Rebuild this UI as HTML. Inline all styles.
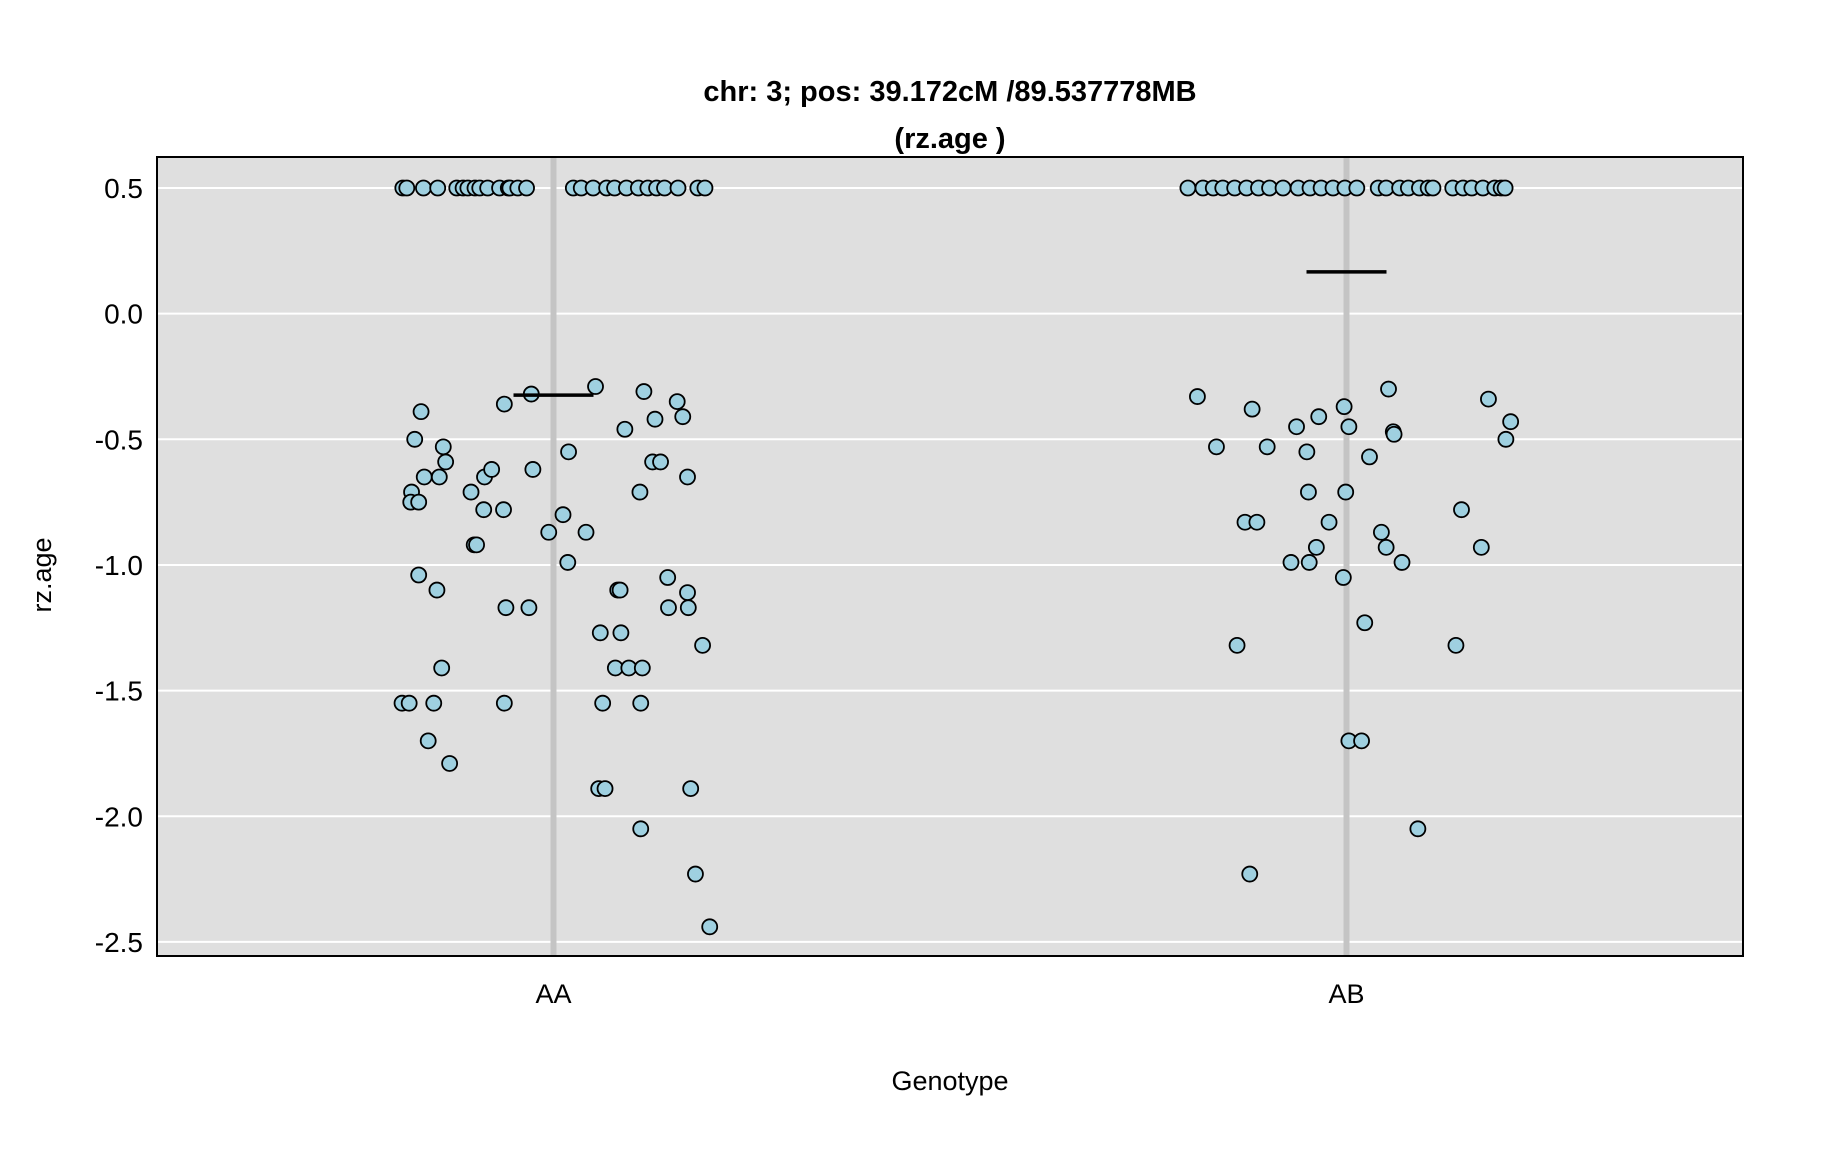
<!DOCTYPE html>
<html><head><meta charset="utf-8"><style>
html,body{margin:0;padding:0;background:#fff}
svg{display:block;font-family:"Liberation Sans",Arial,sans-serif}
</style></head><body>
<svg id="chart" width="1824" height="1152" viewBox="0 0 1824 1152" xmlns="http://www.w3.org/2000/svg">
<rect x="0" y="0" width="1824" height="1152" fill="#fff"/>
<text x="950" y="101" text-anchor="middle" font-size="29" font-weight="bold">chr: 3; pos: 39.172cM /89.537778MB</text>
<text x="950" y="148" text-anchor="middle" font-size="29" font-weight="bold">(rz.age )</text>
<rect x="157" y="157" width="1586" height="799" fill="#dfdfdf"/>
<g id="grid"></g>
<g id="vlines"></g>
<g id="points"></g>
<g id="means"></g>
<rect x="157" y="157" width="1586" height="799" fill="none" stroke="#000" stroke-width="2"/>
<g id="yticks"></g>
<g id="xticks"></g>
<text x="950" y="1090" text-anchor="middle" font-size="27">Genotype</text>
<text transform="translate(51,575) rotate(-90)" text-anchor="middle" font-size="27">rz.age</text>
</svg>
<script>
const categories = ["AA","AB"];
const yTicks = [0.5,0.0,-0.5,-1.0,-1.5,-2.0,-2.5];
const yTickLabels = ["0.5","0.0","-0.5","-1.0","-1.5","-2.0","-2.5"];
const groupMeans = [-0.324,0.166];
const aaTopJitter = [-0.190,-0.185,-0.164,-0.146,-0.122,-0.114,-0.108,-0.099,-0.093,-0.083,-0.068,-0.057,-0.055,-0.045,-0.034,0.025,0.035,0.050,0.067,0.077,0.092,0.107,0.119,0.130,0.140,0.157,0.182,0.191];
const abTopJitter = [-0.200,-0.181,-0.168,-0.156,-0.141,-0.126,-0.111,-0.097,-0.080,-0.061,-0.046,-0.032,-0.017,-0.002,0.013,0.040,0.050,0.067,0.078,0.092,0.103,0.109,0.134,0.147,0.158,0.172,0.187,0.195,0.200];
const topValue = 0.5;
const aaJitter = [-0.175,-0.167,-0.179,-0.180,-0.170,-0.163,-0.144,-0.139,-0.136,-0.170,-0.147,-0.141,-0.191,-0.182,-0.151,-0.158,-0.131,-0.104,-0.100,-0.097,-0.088,-0.087,-0.078,-0.062,-0.063,-0.060,-0.062,-0.031,-0.028,-0.026,-0.006,0.012,0.019,0.018,0.041,0.053,0.059,0.062,0.057,0.065,0.078,0.081,0.084,0.085,0.090,0.095,0.112,0.109,0.110,0.110,0.114,0.128,0.125,0.135,0.144,0.145,0.156,0.163,0.169,0.169,0.170,0.173,0.179,0.188,0.197];
const aaValues = [-0.50,-0.39,-0.71,-0.75,-0.75,-0.65,-0.65,-0.53,-0.59,-1.04,-1.10,-1.41,-1.55,-1.55,-1.55,-1.70,-1.79,-0.71,-0.92,-0.92,-0.78,-0.65,-0.62,-0.36,-0.78,-1.17,-1.55,-1.17,-0.32,-0.62,-0.87,-0.80,-0.55,-0.99,-0.87,-0.29,-1.27,-1.55,-1.89,-1.89,-1.41,-1.10,-1.10,-1.27,-0.46,-1.41,-1.41,-0.71,-1.55,-2.05,-0.31,-0.42,-0.59,-0.59,-1.05,-1.17,-0.35,-0.41,-0.65,-1.11,-1.17,-1.89,-2.23,-1.32,-2.44];
const abJitter = [-0.188,-0.164,-0.128,-0.119,-0.113,-0.100,-0.070,-0.063,-0.050,-0.048,-0.047,-0.038,-0.035,-0.022,-0.004,-0.003,-0.001,0.003,0.003,0.019,0.023,0.029,0.044,0.050,0.053,0.059,0.060,0.070,0.090,0.138,0.145,0.170,0.179,0.201,0.207,-0.138,-0.122];
const abValues = [-0.33,-0.53,-0.83,-0.38,-0.83,-0.53,-0.99,-0.45,-0.55,-0.71,-0.99,-0.93,-0.41,-0.83,-1.05,-0.37,-0.71,-0.45,-1.70,-1.70,-1.23,-0.57,-0.87,-0.93,-0.30,-0.47,-0.48,-0.99,-2.05,-1.32,-0.78,-0.93,-0.34,-0.50,-0.43,-1.32,-2.23];

const NS="http://www.w3.org/2000/svg";
const PX0=157, PW=1586, PY0=157, PH=799;
function xScale(c){ return PX0 + (c + 0.5) * PW / 2; } // c: category index (0,1) plus jitter
function yScale(v){ return 188 + (0.5 - v) * 251.3; }
function mk(tag, attrs, parent){ const e=document.createElementNS(NS,tag); for(const k in attrs) e.setAttribute(k, attrs[k]); parent.appendChild(e); return e; }

const grid=document.getElementById('grid');
yTicks.forEach((t,i)=>{
  const l=mk('line',{x1:PX0,x2:PX0+PW,y1:yScale(t),y2:yScale(t),stroke:'#fff','stroke-width':2},grid);
  
  
  const tx=mk('text',{x:143,y:yScale(t)+10,'text-anchor':'end','font-size':28},document.getElementById('yticks'));
  
  
  tx.textContent=yTickLabels[i];
});
const vl=document.getElementById('vlines'), xt=document.getElementById('xticks'), mg=document.getElementById('means');
categories.forEach((c,i)=>{
  const l=mk('line',{x1:xScale(i),x2:xScale(i),y1:PY0,y2:PY0+PH,stroke:'#c4c4c4','stroke-width':6},vl);
  
  
  const t=mk('text',{x:xScale(i),y:1003,'text-anchor':'middle','font-size':27},xt);
  
  
  t.textContent=c;
});
const pg=document.getElementById('points');
function drawPts(ci, jit, vals){
  jit.forEach((j,k)=>{
    const v = vals===null ? topValue : vals[k];
    const p=mk('circle',{cx:xScale(ci+j),cy:yScale(v),r:7.5,fill:'#9fd0e0',stroke:'#000','stroke-width':1.8},pg);
    
    
  });
}
drawPts(0, aaTopJitter, null);
drawPts(1, abTopJitter, null);
drawPts(0, aaJitter, aaValues);
drawPts(1, abJitter, abValues);
groupMeans.forEach((m,i)=>{
  const l=mk('line',{x1:xScale(i)-40,x2:xScale(i)+40,y1:yScale(m),y2:yScale(m),stroke:'#000','stroke-width':3.5},mg);
  
  
});
</script>
</body></html>
